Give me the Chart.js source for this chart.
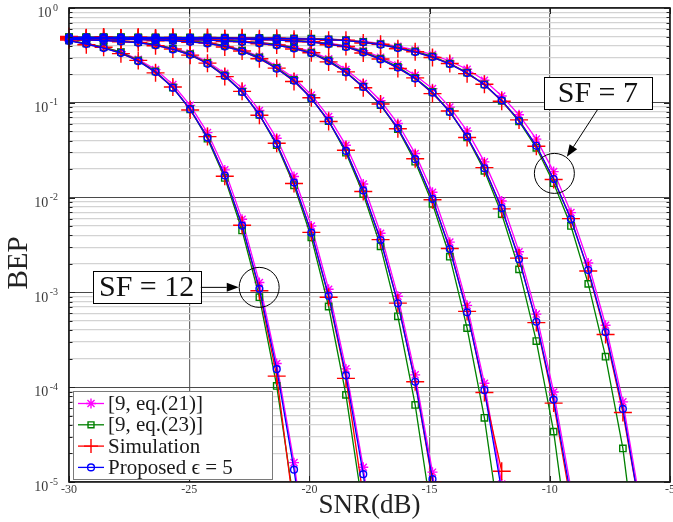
<!DOCTYPE html>
<html>
<head>
<meta charset="utf-8">
<title>BEP vs SNR</title>
<script src="https://cdn.jsdelivr.net/npm/chart.js@4.4.1/dist/chart.umd.min.js"></script>
<style>
  html, body { margin: 0; padding: 0; background: #fff; }
  canvas { display: block; }
</style>
</head>
<body>
<canvas id="chartBep" width="673" height="522"></canvas>
<script>
// SNR sample points (dB), shared by every curve
const snr = [-30, -29.28, -28.56, -27.84, -27.12, -26.4, -25.68, -24.96, -24.24, -23.52, -22.8, -22.08,
  -21.36, -20.64, -19.92, -19.2, -18.48, -17.76, -17.04, -16.32, -15.6, -14.88, -14.16, -13.44,
  -12.72, -12, -11.28, -10.56, -9.84, -9.12, -8.4, -7.68, -6.96, -6.24, -5.52];

// Proposed, eps = 5
const propSf12 = [0.45, 0.417, 0.378, 0.335, 0.275, 0.211, 0.144, 0.0857, 0.043, 0.0171, 0.00506, 0.00109, 1.55e-4, 1.35e-5, 7e-7];
const propSf11 = [0.466, 0.461, 0.454, 0.444, 0.43, 0.405, 0.366, 0.321, 0.258, 0.192, 0.13, 0.075, 0.0369, 0.0144, 0.00427, 9.2e-4, 1.33e-4, 1.21e-5, 6e-7];
const propSf10 = [0.478, 0.476, 0.473, 0.469, 0.464, 0.458, 0.45, 0.44, 0.423, 0.393, 0.348, 0.296, 0.229, 0.171, 0.111, 0.0645, 0.0311, 0.0119, 0.00357, 7.67e-4, 1.14e-4, 1.07e-5, 5e-7];
const propSf9 = [0.483, 0.482, 0.481, 0.479, 0.477, 0.474, 0.47, 0.465, 0.458, 0.449, 0.438, 0.424, 0.404, 0.375, 0.333, 0.275, 0.209, 0.147, 0.095, 0.054, 0.0254, 0.00969, 0.00287, 6.16e-4, 9.3e-5, 8e-6, 3e-7];
const propSf8 = [0.487, 0.487, 0.486, 0.485, 0.484, 0.483, 0.482, 0.48, 0.478, 0.475, 0.471, 0.466, 0.459, 0.449, 0.436, 0.416, 0.388, 0.34, 0.287, 0.235, 0.18, 0.128, 0.08, 0.044, 0.0204, 0.00773, 0.00224, 4.9e-4, 7.4e-5, 7e-6, 3e-7];
const propSf7 = [0.49, 0.49, 0.489, 0.489, 0.488, 0.488, 0.487, 0.486, 0.485, 0.484, 0.482, 0.48, 0.477, 0.474, 0.47, 0.464, 0.453, 0.434, 0.41, 0.378, 0.343, 0.304, 0.256, 0.206, 0.155, 0.106, 0.065, 0.0352, 0.0157, 0.0059, 0.00172, 3.8e-4, 5.9e-5, 5e-6, 2e-7];

// [9, eq.(21)]
const eq21Sf12 = [0.452, 0.42, 0.384, 0.345, 0.287, 0.224, 0.156, 0.094, 0.0485, 0.0196, 0.0059, 0.00127, 1.78e-4, 1.6e-5, 8.5e-7];
const eq21Sf11 = [0.467, 0.463, 0.457, 0.448, 0.436, 0.413, 0.377, 0.334, 0.271, 0.205, 0.142, 0.083, 0.0422, 0.0167, 0.00502, 0.00108, 1.56e-4, 1.43e-5, 7e-7];
const eq21Sf10 = [0.479, 0.477, 0.474, 0.471, 0.467, 0.462, 0.455, 0.447, 0.432, 0.404, 0.361, 0.309, 0.242, 0.183, 0.121, 0.0715, 0.0356, 0.0139, 0.00421, 9.1e-4, 1.35e-4, 1.27e-5, 6e-7];
const eq21Sf9 = [0.484, 0.483, 0.482, 0.48, 0.478, 0.476, 0.473, 0.469, 0.463, 0.455, 0.446, 0.434, 0.416, 0.389, 0.349, 0.291, 0.224, 0.16, 0.105, 0.0605, 0.0291, 0.0114, 0.00339, 7.3e-4, 1.1e-4, 9.5e-6, 3.5e-7];
const eq21Sf8 = [0.488, 0.488, 0.487, 0.486, 0.485, 0.484, 0.483, 0.482, 0.48, 0.478, 0.475, 0.47, 0.464, 0.455, 0.444, 0.426, 0.401, 0.355, 0.303, 0.251, 0.195, 0.141, 0.09, 0.0505, 0.0238, 0.0092, 0.00268, 5.9e-4, 8.9e-5, 8.5e-6, 3.5e-7];
const eq21Sf7 = [0.49, 0.49, 0.49, 0.49, 0.489, 0.489, 0.488, 0.487, 0.487, 0.486, 0.484, 0.483, 0.48, 0.477, 0.474, 0.469, 0.461, 0.445, 0.424, 0.394, 0.361, 0.323, 0.276, 0.226, 0.173, 0.118, 0.0747, 0.0414, 0.0188, 0.00695, 0.00204, 4.5e-4, 7e-5, 6e-6, 2.5e-7];

// [9, eq.(23)]
const eq23Sf12 = [0.455, 0.424, 0.386, 0.342, 0.28, 0.214, 0.145, 0.0855, 0.0418, 0.0161, 0.0045, 8.9e-4, 1.03e-4, 6e-6, 2e-7];
const eq23Sf11 = [0.47, 0.466, 0.459, 0.45, 0.437, 0.412, 0.373, 0.327, 0.263, 0.195, 0.131, 0.0748, 0.0358, 0.0135, 0.0038, 7.1e-4, 8.3e-5, 5e-6, 1.5e-7];
const eq23Sf10 = [0.482, 0.48, 0.477, 0.474, 0.47, 0.465, 0.458, 0.449, 0.432, 0.401, 0.355, 0.302, 0.234, 0.174, 0.112, 0.0642, 0.0298, 0.0109, 0.00306, 5.6e-4, 6.5e-5, 4e-6, 1e-7];
const eq23Sf9 = [0.487, 0.486, 0.485, 0.483, 0.481, 0.478, 0.475, 0.47, 0.464, 0.456, 0.446, 0.432, 0.412, 0.382, 0.339, 0.28, 0.212, 0.148, 0.0945, 0.0527, 0.0239, 0.0086, 0.00238, 4.2e-4, 4.75e-5, 2.5e-6, 5e-8];
const eq23Sf8 = [0.491, 0.491, 0.49, 0.489, 0.488, 0.487, 0.486, 0.484, 0.482, 0.479, 0.475, 0.47, 0.464, 0.455, 0.442, 0.422, 0.394, 0.346, 0.292, 0.239, 0.183, 0.13, 0.0805, 0.0432, 0.0192, 0.0067, 0.00175, 3.07e-4, 3.4e-5, 1.5e-6, 2e-8];
const eq23Sf7 = [0.493, 0.493, 0.492, 0.492, 0.491, 0.491, 0.49, 0.49, 0.489, 0.488, 0.486, 0.484, 0.481, 0.478, 0.474, 0.468, 0.458, 0.44, 0.416, 0.384, 0.348, 0.308, 0.259, 0.208, 0.156, 0.105, 0.0637, 0.0335, 0.0142, 0.00502, 0.00123, 2.1e-4, 2.26e-5, 8e-7, 1e-8];

// Simulation
const simSf12 = [0.46, 0.41, 0.385, 0.33, 0.28, 0.207, 0.147, 0.084, 0.044, 0.0168, 0.0051, 0.00104, 1.31e-4, 5e-6];
const simSf11 = [0.47, 0.455, 0.458, 0.44, 0.434, 0.4, 0.37, 0.318, 0.262, 0.189, 0.132, 0.074, 0.0375, 0.0141, 0.0043, 8.9e-4, 1.24e-4, 7e-6];
const simSf10 = [0.48, 0.474, 0.478, 0.465, 0.468, 0.452, 0.455, 0.436, 0.426, 0.388, 0.352, 0.291, 0.232, 0.168, 0.113, 0.0635, 0.0316, 0.0116, 0.0036, 7.7e-4, 1.14e-4, 1.0e-5];
const simSf9 = [0.49, 0.478, 0.486, 0.474, 0.481, 0.47, 0.474, 0.46, 0.462, 0.444, 0.441, 0.419, 0.408, 0.37, 0.337, 0.27, 0.212, 0.144, 0.097, 0.0532, 0.0257, 0.0095, 0.0029, 6.3e-4, 8.8e-5, 1.3e-5];
const simSf8 = [0.49, 0.484, 0.489, 0.482, 0.487, 0.479, 0.485, 0.476, 0.482, 0.47, 0.476, 0.461, 0.465, 0.443, 0.44, 0.41, 0.392, 0.335, 0.29, 0.23, 0.183, 0.125, 0.082, 0.043, 0.0207, 0.0076, 0.0023, 4.8e-4, 6.8e-5, 6e-6];
const simSf7 = [0.5, 0.485, 0.495, 0.484, 0.492, 0.483, 0.49, 0.481, 0.488, 0.478, 0.486, 0.474, 0.48, 0.468, 0.47, 0.456, 0.458, 0.428, 0.414, 0.372, 0.346, 0.3, 0.26, 0.203, 0.157, 0.104, 0.066, 0.0348, 0.0155, 0.006, 0.00168, 3.6e-4, 5.4e-5, 5e-6];

const seriesLabels = ['[9, eq.(21)]', '[9, eq.(23)]', 'Simulation', 'Proposed \u03f5 = 5'];
const xTicks = [-30, -25, -20, -15, -10, -5];
const yDecades = [-5, -4, -3, -2, -1, 0];
const yMinor = [2, 3, 4, 5, 6, 7, 8, 9];

const series = [
  { curves: [eq21Sf12, eq21Sf11, eq21Sf10, eq21Sf9, eq21Sf8, eq21Sf7], color: '#ff00ff', point: 'star', radius: 5, order: 3 },
  { curves: [eq23Sf12, eq23Sf11, eq23Sf10, eq23Sf9, eq23Sf8, eq23Sf7], color: '#008000', point: 'rect', radius: 4.5, order: 2 },
  { curves: [simSf12, simSf11, simSf10, simSf9, simSf8, simSf7], color: '#ff0000', point: 'cross', radius: 9, order: 1 },
  { curves: [propSf12, propSf11, propSf10, propSf9, propSf8, propSf7], color: '#0000ff', point: 'circle', radius: 3.4, order: 0 }
];

const datasets = [];
series.forEach((s, si) => {
  s.curves.forEach(vals => {
    datasets.push({
      label: seriesLabels[si],
      data: vals.map((v, i) => ({ x: snr[i], y: v })),
      borderColor: s.color,
      borderWidth: 1.3,
      pointStyle: s.point,
      pointRadius: s.radius,
      pointBorderColor: s.color,
      pointBackgroundColor: 'rgba(0,0,0,0)',
      pointBorderWidth: 1.4,
      tension: 0,
      order: s.order,
      clip: { left: 12, top: 8, right: 6, bottom: 0 }
    });
  });
});

const serif = '"Liberation Serif", "DejaVu Serif", serif';

const arrow = (ctx, x1, y1, x2, y2) => {
  const ang = Math.atan2(y2 - y1, x2 - x1);
  const len = 12, half = 4.5;
  const bx = x2 - len * Math.cos(ang), by = y2 - len * Math.sin(ang);
  ctx.beginPath();
  ctx.moveTo(x1, y1);
  ctx.lineTo(bx, by);
  ctx.stroke();
  ctx.beginPath();
  ctx.moveTo(x2, y2);
  ctx.lineTo(bx + half * Math.sin(ang), by - half * Math.cos(ang));
  ctx.lineTo(bx - half * Math.sin(ang), by + half * Math.cos(ang));
  ctx.closePath();
  ctx.fill();
};

const noteBox = (ctx, cx, cy, w, h, text) => {
  ctx.fillStyle = '#fff';
  ctx.fillRect(cx - w / 2, cy - h / 2, w, h);
  ctx.strokeStyle = '#000';
  ctx.lineWidth = 1;
  ctx.strokeRect(Math.round(cx - w / 2) + 0.5, Math.round(cy - h / 2) + 0.5, w, h);
  ctx.fillStyle = '#111';
  ctx.font = '30px ' + serif;
  ctx.textAlign = 'center';
  ctx.textBaseline = 'middle';
  ctx.fillText(text, cx, cy + 1);
};

const decor = {
  id: 'decor',
  afterDraw(chart) {
    const { ctx, chartArea: a, scales: { x, y } } = chart;
    ctx.save();

    // tick marks, inside the box
    ctx.strokeStyle = '#222';
    ctx.lineWidth = 1;
    y.ticks.forEach(t => {
      const py = Math.round(y.getPixelForValue(t.value)) + 0.5;
      const len = t.major ? 6 : 3.5;
      ctx.beginPath();
      ctx.moveTo(a.left, py); ctx.lineTo(a.left + len, py);
      ctx.moveTo(a.right, py); ctx.lineTo(a.right - len, py);
      ctx.stroke();
    });
    x.ticks.forEach(t => {
      const px = Math.round(x.getPixelForValue(t.value)) + 0.5;
      ctx.beginPath();
      ctx.moveTo(px, a.bottom); ctx.lineTo(px, a.bottom - 6);
      ctx.moveTo(px, a.top); ctx.lineTo(px, a.top + 6);
      ctx.stroke();
    });
    ctx.lineWidth = 1.6;
    ctx.strokeStyle = '#1a1a1a';
    ctx.strokeRect(a.left, a.top, a.right - a.left, a.bottom - a.top);

    // y tick labels 10^n
    ctx.fillStyle = '#3a3a3a';
    ctx.textBaseline = 'middle';
    yDecades.forEach(e => {
      const py = y.getPixelForValue(Math.pow(10, e));
      const ex = e === 0 ? '0' : '-' + Math.abs(e);
      ctx.font = '10px ' + serif;
      ctx.textAlign = 'right';
      const ew = ctx.measureText(ex).width;
      ctx.fillText(ex, 58, py);
      ctx.font = '14px ' + serif;
      ctx.fillText('10', 58 - ew - 1.5, py + 5.5);
    });

    // x tick labels
    ctx.font = '12px ' + serif;
    ctx.textAlign = 'center';
    xTicks.forEach(v => ctx.fillText(String(v), x.getPixelForValue(v), a.bottom + 8));

    // axis titles
    ctx.fillStyle = '#222';
    ctx.font = '27px ' + serif;
    ctx.fillText('SNR(dB)', (a.left + a.right) / 2, a.bottom + 24);
    ctx.save();
    ctx.font = '29px ' + serif;
    ctx.translate(19, 263);
    ctx.rotate(-Math.PI / 2);
    ctx.fillText('BEP', 0, 0);
    ctx.restore();

    // SF = 7 note
    ctx.strokeStyle = '#000';
    ctx.fillStyle = '#000';
    ctx.lineWidth = 1;
    let cx = x.getPixelForValue(-9.81), cy = y.getPixelForValue(0.018);
    ctx.beginPath(); ctx.arc(cx, cy, 20, 0, Math.PI * 2); ctx.stroke();
    arrow(ctx, x.getPixelForValue(-8.02), y.getPixelForValue(0.0843), x.getPixelForValue(-9.29), y.getPixelForValue(0.0269));
    noteBox(ctx, x.getPixelForValue(-8.0), y.getPixelForValue(0.1265), 108, 32, 'SF = 7');

    // SF = 12 note
    ctx.strokeStyle = '#000';
    ctx.fillStyle = '#000';
    ctx.lineWidth = 1;
    cx = x.getPixelForValue(-22.09); cy = y.getPixelForValue(0.00113);
    ctx.beginPath(); ctx.arc(cx, cy, 20, 0, Math.PI * 2); ctx.stroke();
    arrow(ctx, x.getPixelForValue(-24.53), cy, x.getPixelForValue(-22.94), cy);
    noteBox(ctx, x.getPixelForValue(-26.77), cy, 108, 32, 'SF = 12');

    // legend
    const lx = a.left + 4, ly = a.bottom - 91, lw = 199, lh = 88;
    ctx.fillStyle = '#fff';
    ctx.fillRect(lx, ly, lw, lh);
    ctx.strokeStyle = '#7a7a7a';
    ctx.lineWidth = 1;
    ctx.strokeRect(lx + 0.5, ly + 0.5, lw, lh);
    series.forEach((s, i) => {
      const ry = ly + 12.5 + i * 21.3;
      ctx.strokeStyle = s.color;
      ctx.lineWidth = 1.3;
      ctx.beginPath(); ctx.moveTo(lx + 5, ry); ctx.lineTo(lx + 31, ry); ctx.stroke();
      ctx.fillStyle = 'rgba(0,0,0,0)';
      ctx.lineWidth = 1.4;
      const r = s.point === 'cross' ? 7 : (s.point === 'star' ? 5 : (s.point === 'rect' ? 4.2 : 3.4));
      Chart.helpers.drawPoint(ctx, { pointStyle: s.point, radius: r, borderWidth: 1.4, rotation: 0 }, lx + 18, ry);
      ctx.fillStyle = '#1a1a1a';
      ctx.textAlign = 'left';
      ctx.textBaseline = 'middle';
      ctx.font = '21px ' + serif;
      ctx.fillText(seriesLabels[i], lx + 35, ry + 1);
    });

    ctx.restore();
  }
};

new Chart(document.getElementById('chartBep').getContext('2d'), {
  type: 'line',
  data: { datasets },
  options: {
    responsive: false,
    animation: false,
    devicePixelRatio: 1,
    layout: { autoPadding: false, padding: { left: 69, right: 3, top: 8, bottom: 40 } },
    plugins: { legend: { display: false }, tooltip: { enabled: false } },
    scales: {
      x: {
        type: 'linear',
        min: -30,
        max: -5,
        afterBuildTicks: scale => { scale.ticks = xTicks.map(v => ({ value: v })); },
        ticks: { display: false },
        border: { display: false },
        grid: { color: '#6c6c6c', lineWidth: 1.2, drawTicks: false }
      },
      y: {
        type: 'logarithmic',
        min: 1e-5,
        max: 1,
        afterBuildTicks: scale => {
          const t = [];
          yDecades.forEach(e => {
            t.push({ value: Math.pow(10, e), major: true });
            if (e < 0) yMinor.forEach(m => t.push({ value: m * Math.pow(10, e), major: false }));
          });
          scale.ticks = t;
        },
        ticks: { display: false },
        border: { display: false },
        grid: {
          color: c => (c.tick && c.tick.major ? '#4a4a4a' : '#d3d3d3'),
          lineWidth: c => (c.tick && c.tick.major ? 1.1 : 1.3),
          drawTicks: false
        }
      }
    }
  },
  plugins: [decor]
});
</script>
</body>
</html>
